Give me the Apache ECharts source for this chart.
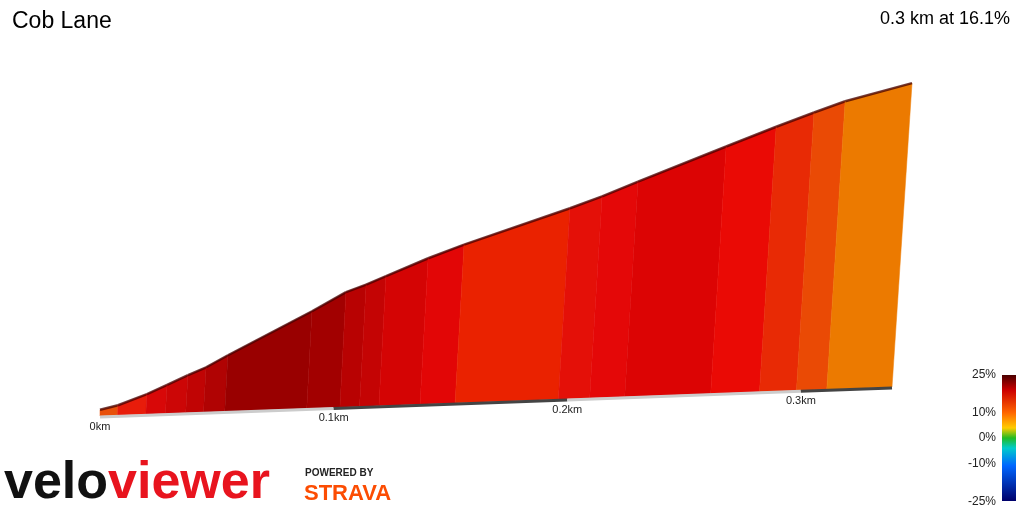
<!DOCTYPE html>
<html><head><meta charset="utf-8">
<script src="https://cdn.jsdelivr.net/npm/echarts@6/dist/echarts.min.js"></script>
<style>html,body{margin:0;padding:0;background:#fff}#c{width:1024px;height:512px}</style>
</head><body><div id="c"></div>
<script>
// distance (km) and elevation (m) at segment boundaries
const dist = [0,0.0075,0.0196,0.028,0.0367,0.0443,0.0534,0.0885,0.1027,0.1111,0.1194,0.137,0.152,0.1962,0.2096,0.2246,0.2614,0.2823,0.2981,0.3111,0.339];
const elev = [1.1,1.8,3.6,5.1,6.7,8.0,10.0,17.3,20.5,21.7,23.1,26.0,28.2,34.0,35.9,38.3,44.0,47.2,49.5,51.3,54.1];
const segColors = ['#e8500a','#e81c0a','#d80808','#cc0606','#c00404','#b00303','#990000','#a20000','#b80202','#c40404','#d40404','#e20606','#ea2200','#e41008','#e40808','#dc0404','#ea0a05','#e82a05','#ea4a05','#ec7a00'];
const tickKm = [0,0.1,0.2,0.3];
const tickLabels = ['0km','0.1km','0.2km','0.3km'];
const DMAX = 0.339;

const segData = [];
for (let i=0;i<dist.length-1;i++) segData.push([dist[i],dist[i+1],elev[i],elev[i+1],i]);
const baseData = [];
for (let i=0;i<tickKm.length;i++) baseData.push([tickKm[i], Math.min(tickKm[i]+0.1, DMAX), i]);
const labelData = tickKm.map((k,i)=>[k,i]);

function topPt(api,d,e){const c=api.coord([d,e]);return [c[0]+20*d/DMAX, c[1]-29*d/DMAX];}
function botPt(api,d){const c=api.coord([d,0]);return [c[0], c[1]-29*d/DMAX];}

const chart = echarts.init(document.getElementById('c'));
chart.setOption({
  animation:false,
  grid:{left:100,right:132,top:79,bottom:96},
  xAxis:{type:'value',min:0,max:DMAX,show:false},
  yAxis:{type:'value',min:0,max:60,show:false},
  series:[
    {type:'custom',data:segData,renderItem:function(p,api){
      const d0=api.value(0),d1=api.value(1),e0=api.value(2),e1=api.value(3),i=api.value(4);
      const a=topPt(api,d0,e0),b=topPt(api,d1,e1),c=botPt(api,d1),d=botPt(api,d0);
      return {type:'group',children:[
        {type:'polygon',shape:{points:[a,b,c,d]},style:{fill:segColors[i],stroke:segColors[i],lineWidth:0.5}},
        {type:'line',shape:{x1:a[0],y1:a[1],x2:b[0],y2:b[1]},style:{stroke:'rgba(70,0,0,0.75)',lineWidth:2.5}}
      ]};
    }},
    {type:'custom',data:baseData,renderItem:function(p,api){
      const d0=api.value(0),d1=api.value(1),i=api.value(2);
      const a=botPt(api,d0),b=botPt(api,d1);
      return {type:'line',shape:{x1:a[0],y1:a[1]+1,x2:b[0],y2:b[1]+1},style:{stroke:i%2?'#444':'#ccc',lineWidth:3}};
    }},
    {type:'custom',data:labelData,renderItem:function(p,api){
      const d=api.value(0),i=api.value(1);
      const a=botPt(api,d);
      return {type:'text',style:{text:tickLabels[i],x:a[0],y:a[1]+11,fontSize:11,fontFamily:'Liberation Sans',fill:'#222',align:'center',verticalAlign:'middle'}};
    }}
  ],
  graphic:[
    {type:'text',left:12,top:10,style:{text:'Cob Lane',fontSize:23,fontFamily:'Liberation Sans',fill:'#000'}},
    {type:'text',right:14,top:10,style:{text:'0.3 km at 16.1%',fontSize:18,fontFamily:'Liberation Sans',fill:'#000'}},
    {type:'rect',shape:{x:1002,y:375,width:14,height:126},style:{fill:new echarts.graphic.LinearGradient(0,0,0,1,[
      {offset:0,color:'#4a0000'},{offset:0.12,color:'#cc0000'},{offset:0.3,color:'#ff6600'},{offset:0.42,color:'#ffcc00'},
      {offset:0.5,color:'#22bb22'},{offset:0.58,color:'#00cccc'},{offset:0.72,color:'#0066ff'},{offset:1,color:'#00006a'}])}},
    {type:'text',x:996,y:375,style:{text:'25%',fontSize:12,fontFamily:'Liberation Sans',fill:'#222',align:'right',verticalAlign:'middle'}},
    {type:'text',x:996,y:413,style:{text:'10%',fontSize:12,fontFamily:'Liberation Sans',fill:'#222',align:'right',verticalAlign:'middle'}},
    {type:'text',x:996,y:438,style:{text:'0%',fontSize:12,fontFamily:'Liberation Sans',fill:'#222',align:'right',verticalAlign:'middle'}},
    {type:'text',x:996,y:464,style:{text:'-10%',fontSize:12,fontFamily:'Liberation Sans',fill:'#222',align:'right',verticalAlign:'middle'}},
    {type:'text',x:996,y:502,style:{text:'-25%',fontSize:12,fontFamily:'Liberation Sans',fill:'#222',align:'right',verticalAlign:'middle'}},
    {type:'text',x:4,y:484,style:{text:'{a|velo}{b|viewer}',verticalAlign:'middle',rich:{
      a:{fontSize:52,fontWeight:'bold',fontFamily:'Liberation Sans',fill:'#111',letterSpacing:-4},
      b:{fontSize:52,fontWeight:'bold',fontFamily:'Liberation Sans',fill:'#e8141e',letterSpacing:-4}}}},
    {type:'text',x:305,y:473,style:{text:'POWERED BY',fontSize:10,fontWeight:'bold',fontFamily:'Liberation Sans',fill:'#222',verticalAlign:'middle'}},
    {type:'text',x:304,y:494,style:{text:'STRAVA',fontSize:22,fontWeight:'bold',fontFamily:'Liberation Sans',fill:'#fc4c02',verticalAlign:'middle'}}
  ]
});
</script></body></html>
